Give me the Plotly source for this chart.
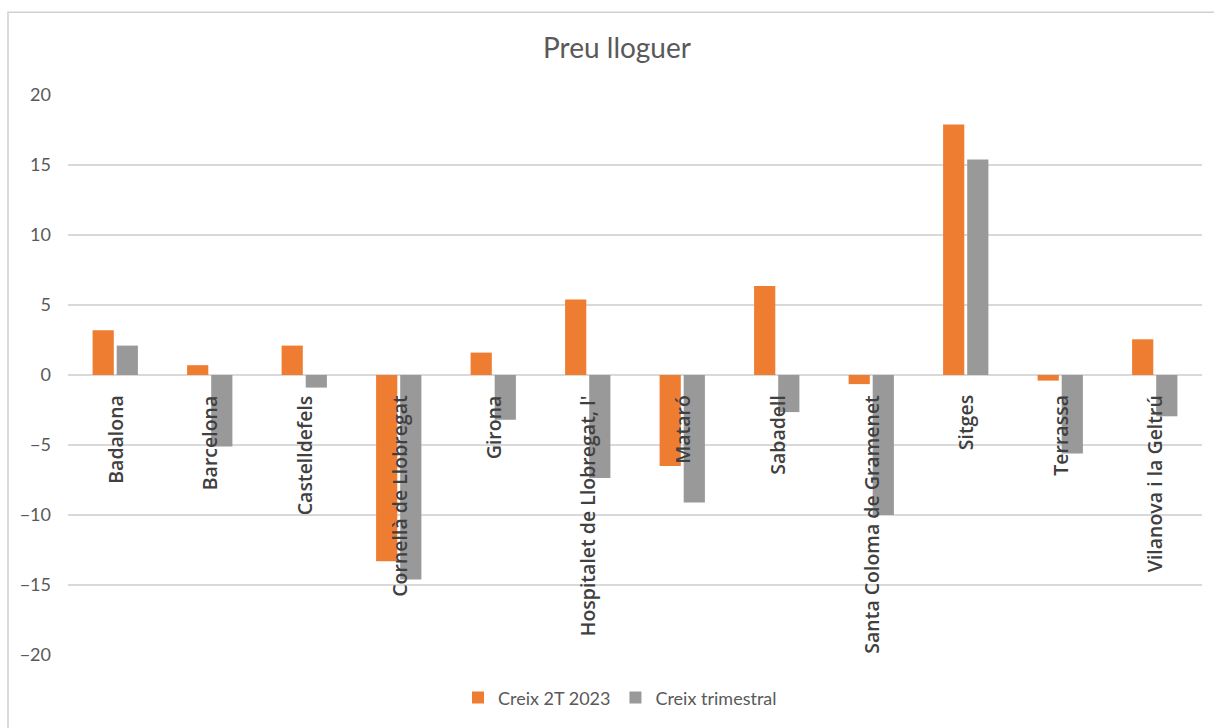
import plotly.graph_objects as go

# Municipalities and rent-price growth (%)
municipis = [
    "Badalona", "Barcelona", "Castelldefels", "Cornellà de Llobregat", "Girona",
    "Hospitalet de Llobregat, l'", "Mataró", "Sabadell", "Santa Coloma de Gramenet",
    "Sitges", "Terrassa", "Vilanova i la Geltrú",
]
creix_2t_2023 = [3.2, 0.7, 2.1, -13.3, 1.6, 5.4, -6.5, 6.35, -0.65, 17.9, -0.4, 2.55]
creix_trimestral = [2.1, -5.1, -0.9, -14.6, -3.2, -7.35, -9.1, -2.65, -10.0, 15.4, -5.6, -2.95]

y_ticks = [-20, -15, -10, -5, 0, 5, 10, 15, 20]

ORANGE = "#EE7D31"
GREY = "#999999"
GRID = "#D9D9D9"
TXT = "#595959"

fig = go.Figure()
fig.add_trace(go.Bar(x=municipis, y=creix_2t_2023, name="Creix 2T 2023",
                     marker=dict(color=ORANGE, line=dict(width=0))))
fig.add_trace(go.Bar(x=municipis, y=creix_trimestral, name="Creix trimestral",
                     marker=dict(color=GREY, line=dict(width=0))))

# Category names drawn vertically just below the zero line
for m in municipis:
    fig.add_annotation(x=m, y=0, xref="x", yref="y", text=m, textangle=-90,
                       showarrow=False, xanchor="center", yanchor="top", yshift=-18,
                       font=dict(family="Open Sans", size=19.5, color="#404040", weight=600))

# Outer chart-area frame
fig.add_shape(type="rect", xref="paper", yref="paper",
              x0=(8 - 68) / 1134, x1=(1230 - 68) / 1134,
              y0=(657 - 740) / 562, y1=(657 - 12) / 562,
              line=dict(color="#D0D0D0", width=1.5), fillcolor="rgba(0,0,0,0)", layer="below")

fig.update_layout(
    width=1214, height=728,
    margin=dict(l=68, r=12, t=95, b=71),
    paper_bgcolor="white", plot_bgcolor="white",
    barmode="group", bargap=0.49, bargroupgap=0.12,
    title=dict(text="Preu lloguer", x=617 / 1214, xanchor="center", y=1 - 48 / 728, yanchor="middle",
               font=dict(family="Lato", size=28, color=TXT)),
    legend=dict(orientation="h", x=(620 - 68) / 1134, xanchor="center", y=(657 - 700) / 562,
                yanchor="middle", font=dict(family="Lato", size=18, color=TXT),
                traceorder="normal", itemwidth=30),
    xaxis=dict(showticklabels=False, showgrid=False, zeroline=False, showline=False, ticks=""),
    yaxis=dict(range=[-20, 20], tickvals=y_ticks, showgrid=True, gridcolor=GRID, gridwidth=1.5,
               zeroline=True, zerolinecolor=GRID, zerolinewidth=1.5, showline=False,
               ticklabelstandoff=16, tickfont=dict(family="Lato", size=18, color=TXT)),
    showlegend=True,
)

fig.write_html("out.html")
